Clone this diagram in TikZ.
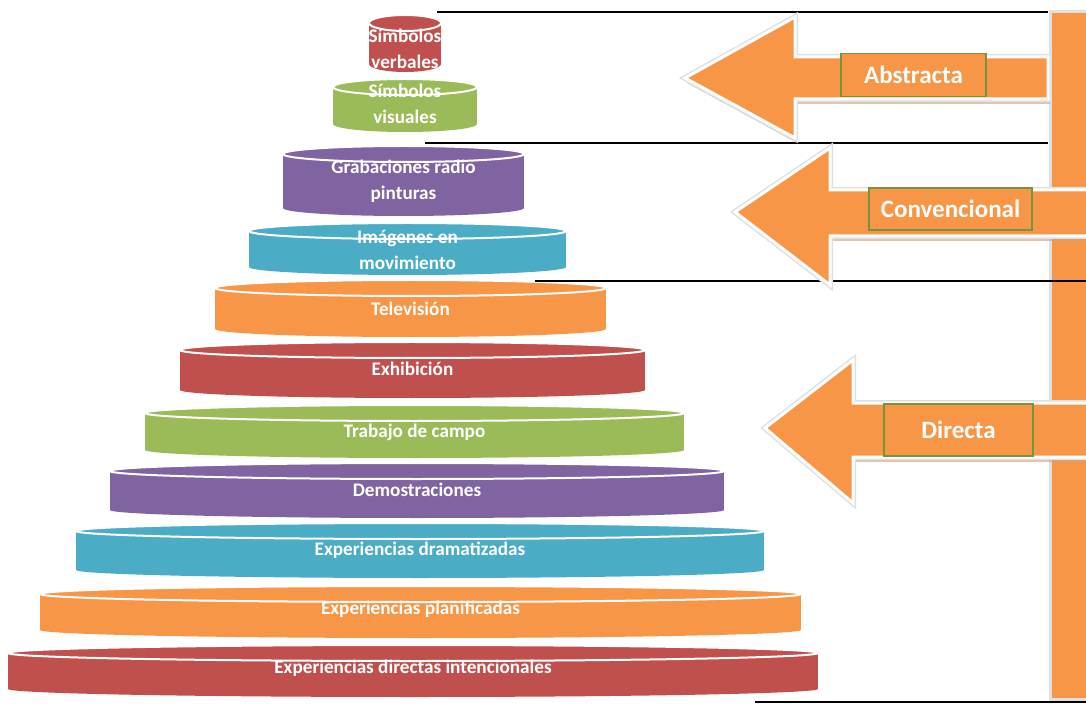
\documentclass[tikz,border=0pt]{standalone}
\usepackage{fontspec}
\setmainfont{Carlito}
\usetikzlibrary{positioning}
\definecolor{ofred}{HTML}{C0504D}
\definecolor{ofgreen}{HTML}{9BBB59}
\definecolor{ofpurple}{HTML}{8064A2}
\definecolor{ofaqua}{HTML}{4BACC6}
\definecolor{oforange}{HTML}{F79646}
\definecolor{boxgreen}{HTML}{77933C}
\definecolor{shadowtan}{HTML}{C9A07E}
\tikzset{
  disclabel/.style={text=white,font=\bfseries\fontsize{9.6}{13}\selectfont,align=center,inner sep=0pt},
  arrowlabel/.style={draw=boxgreen,line width=0.6pt,fill=oforange,text=white,font=\bfseries\fontsize{12.5}{14}\selectfont,inner sep=0pt},
  guide/.style={draw=black,line width=1pt},
  pointer/.style={preaction={draw=black!12,line width=3pt},fill=oforange,draw=white,line width=1.5pt},
  pointershadow/.style={fill=shadowtan,opacity=0.6}
}
\begin{document}
\begin{tikzpicture}[x=0.5pt,y=-0.5pt]
\useasboundingbox (0,0) rectangle (1086,705);

% the cone of experience
\foreach \cx/\rx/\yt/\yb/\ty/\col/\nm/\txt in {
  405/36/15/72/49/ofred/verb/{Símbolos\\verbales},
  405/72/79/132/104/ofgreen/visu/{Símbolos\\visuales},
  403.5/120.5/146/216/181/ofpurple/grab/{Grabaciones radio\\pinturas},
  407.5/158.5/223/275/250/ofaqua/imag/{Imágenes en\\movimiento},
  410.5/195.5/280/337/309/oforange/tele/Televisión,
  412.5/232.5/342/398/369/ofred/exhi/Exhibición,
  414.5/269.5/405/458/432/ofgreen/camp/Trabajo de campo,
  417/307/463/518/490/ofpurple/demo/Demostraciones,
  420/344/523/578/550/ofaqua/dram/Experiencias dramatizadas,
  420.5/380.5/586/638/609/oforange/plan/Experiencias planificadas,
  413/405/645/697/668/ofred/dire/Experiencias directas intencionales}
{
  \fill[\col] (\cx-\rx,\yt+8) rectangle (\cx+\rx,\yb-8);
  \fill[\col] (\cx,\yb-8) ellipse [x radius=\rx,y radius=8];
  \fill[\col] (\cx,\yt+8) ellipse [x radius=\rx,y radius=8];
  \draw[white,line width=1pt] (\cx,\yt+8) ellipse [x radius=\rx,y radius=8];
  \node[disclabel] (\nm) at (\cx,\ty) {\txt};
}

% right bar
\fill[oforange,preaction={draw=black!12,line width=3pt}] (1052,13) rectangle (1096,698);

% separating lines
\coordinate (l1a) at (437,12);  \coordinate (l1b) at (1048,12);
\coordinate (l2a) at (425,143); \coordinate (l2b) at (1048,143);
\coordinate (l3a) at (535,281); \coordinate (l3b) at (1090,281);
\coordinate (l4a) at (755,702); \coordinate (l4b) at (1090,702);
\draw[guide] (l1a) -- (l1b);
\draw[guide] (l2a) -- (l2b);
\draw[guide] (l3a) -- (l3b);
\draw[guide] (l4a) -- (l4b);

% arrows
\foreach \tx/\ty/\hx/\ht/\hb/\st/\sb/\ex in {
  685/78/795/17/138/57/99/1048,
  735/212/830/148/285/190/236/1096,
  765/428/853/360/503/403/457/1096}
{
  \fill[pointershadow,shift={(2,5)}] (\tx,\ty) -- (\hx,\ht) -- (\hx,\st) -- (\ex,\st) -- (\ex,\sb) -- (\hx,\sb) -- (\hx,\hb) -- cycle;
  \filldraw[pointer] (\tx,\ty) -- (\hx,\ht) -- (\hx,\st) -- (\ex,\st) -- (\ex,\sb) -- (\hx,\sb) -- (\hx,\hb) -- cycle;
}

\node[arrowlabel,minimum width=72.5pt,minimum height=21.5pt] (abs) at (913.5,75) {Abstracta\hspace{6pt}};
\node[arrowlabel,minimum width=81.5pt,minimum height=21pt] (conv) at (950.5,209) {Convencional};
\node[arrowlabel,minimum width=74.5pt,minimum height=26pt] (dir) at (958.5,430) {Directa};
\end{tikzpicture}
\end{document}
